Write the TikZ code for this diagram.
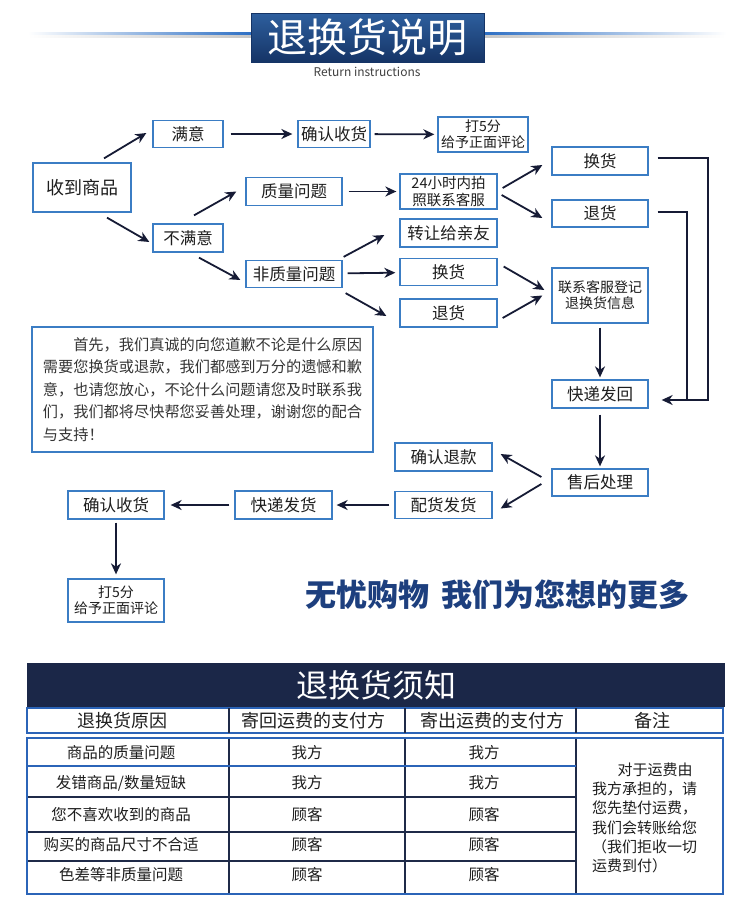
\documentclass[tikz,border=0pt]{standalone}
\usepackage{fontspec}
\setmainfont{Noto Sans CJK SC}
\usetikzlibrary{arrows.meta, positioning, calc}

\definecolor{boxblue}{HTML}{3B7DC4}
\definecolor{arrownavy}{HTML}{161B35}
\definecolor{textdark}{HTML}{1E1E1E}
\definecolor{hdrtop}{HTML}{2E5F9E}
\definecolor{hdrbot}{HTML}{153466}
\definecolor{lineblue}{HTML}{2D6FC4}
\definecolor{tblnavy}{HTML}{1B2748}
\definecolor{tblblue}{HTML}{2B64B8}
\definecolor{tbldark}{HTML}{1F2A48}
\definecolor{slogan}{HTML}{1D3F7E}

\begin{document}
\begin{tikzpicture}[x=1pt, y=-1pt,
    box/.style={draw=boxblue, line width=1.3pt, fill=white, minimum width=96pt, minimum height=28pt, inner sep=0pt, text=textdark, align=center, font=\fontsize{16.5pt}{19pt}\selectfont},
    smallbox/.style={box, font=\fontsize{14pt}{16pt}\selectfont},
    conn/.style={draw=arrownavy, line width=1.8pt, -{Stealth[length=11pt, width=10pt, inset=3.5pt]}},
    link/.style={draw=arrownavy, line width=1.8pt},
    cell/.style={text=textdark, font=\fontsize{15.5pt}{18pt}\selectfont},
    headcell/.style={text=textdark, font=\fontsize{18pt}{20pt}\selectfont}
]
    \useasboundingbox[fill=white] (0,0) rectangle (750,921);

    % heading
    \shade[left color=white, right color=lineblue] (28,32) rectangle (251,35);
    \shade[left color=white, right color=gray!45] (28,35) rectangle (251,37.5);
    \shade[left color=lineblue, right color=white] (484,32) rectangle (726,35);
    \shade[left color=gray!45, right color=white] (484,35) rectangle (726,37.5);
    \node[top color=hdrtop, bottom color=hdrbot, draw=hdrbot, minimum width=233pt, minimum height=49pt, inner sep=0pt, text=white, font=\fontsize{40pt}{42pt}\selectfont] (title) at (367.5,37.5) {退换货说明};
    \node[text=textdark!85, font=\fontsize{12pt}{13pt}\selectfont] (subtitle) at (367,72) {Return instructions};

    % flow
    \node[box, minimum width=98pt, minimum height=49pt, font=\fontsize{18pt}{20pt}\selectfont] (recv) at (82,187.5) {收到商品};
    \node[box, minimum width=70pt, minimum height=27pt] (sat) at (188,134) {满意};
    \node[box, minimum width=72pt, minimum height=27pt] (okTop) at (334,134) {确认收货};
    \node[smallbox, minimum width=90pt, minimum height=35pt] (rateTop) at (483,134.5) {打5分\\给予正面评论};
    \node[box, minimum width=70pt] (unsat) at (188,238) {不满意};
    \node[box] (qual) at (294,191.5) {质量问题};
    \node[smallbox, minimum width=97pt, minimum height=35pt, font=\fontsize{14.5pt}{16.5pt}\selectfont] (svc) at (448.5,191.5) {24小时内拍\\照联系客服};
    \node[box, minimum height=27pt] (nonq) at (294,274) {非质量问题};
    \node[box] (exA) at (600,161) {换货};
    \node[box, minimum height=27pt] (rfA) at (600,213.5) {退货};
    \node[box, minimum width=97pt] (gift) at (448.5,233) {转让给亲友};
    \node[box, minimum width=97pt, minimum height=27pt] (exB) at (448.5,272) {换货};
    \node[box, minimum width=97pt] (rfB) at (448.5,313) {退货};
    \node[smallbox, minimum height=55pt] (reg) at (600,295.5) {联系客服登记\\退换货信息};
    \node[box, minimum width=341pt, minimum height=125pt, align=left, font=\fontsize{15.2pt}{22.6pt}\selectfont, text=textdark!90] (note) at (202.5,389.5)
        {\hspace*{2em}首先，我们真诚的向您道歉不论是什么原因\\
         需要您换货或退款，我们都感到万分的遗憾和歉\\
         意，也请您放心，不论什么问题请您及时联系我\\
         们，我们都将尽快帮您妥善处理，谢谢您的配合\\
         与支持！};
    \node[box] (back) at (600,394) {快递发回};
    \node[box, minimum width=97pt] (refund) at (443.5,457) {确认退款};
    \node[box, minimum height=27pt] (after) at (600,482.5) {售后处理};
    \node[box, minimum width=97pt, minimum height=27pt] (ship) at (443.5,505) {配货发货};
    \node[box, minimum width=97pt] (exp) at (283.5,505) {快递发货};
    \node[box] (okBot) at (116,505) {确认收货};
    \node[smallbox, minimum height=43pt] (rateBot) at (116,600.5) {打5分\\给予正面评论};

    \draw[conn] ([xshift=22pt,yshift=4pt]recv.north) -- ([xshift=-6pt,yshift=1pt]sat.west);
    \draw[conn] ([xshift=25pt,yshift=-5pt]recv.south) -- ([xshift=-3pt,yshift=-4pt]unsat.west);
    \draw[conn, shorten <=7pt, shorten >=5pt] (sat) -- (okTop);
    \draw[conn, shorten <=4pt, shorten >=3pt] (okTop) -- (rateTop);
    \draw[conn] ([xshift=6pt,yshift=8pt]unsat.north) -- ([xshift=-9pt]qual.west);
    \draw[conn] ([xshift=11pt,yshift=-5pt]unsat.south) -- ([xshift=-5pt,yshift=-6pt]nonq.west);
    \draw[conn, shorten <=6pt, shorten >=3pt] (qual) -- (svc);
    \draw[conn] ([xshift=1pt,yshift=3pt]nonq.north east) -- ([xshift=-15pt,yshift=-2pt]gift.west);
    \draw[conn, shorten <=5pt, shorten >=4pt] (nonq) -- (exB);
    \draw[conn] ([xshift=3pt,yshift=-5pt]nonq.south east) -- ([xshift=-13pt,yshift=-3pt]rfB.west);
    \draw[conn] ([xshift=5pt,yshift=3.5pt]svc.east) -- ([xshift=-9pt,yshift=-4pt]exA.west);
    \draw[conn] ([xshift=4pt,yshift=-3.5pt]svc.east) -- ([xshift=-9pt,yshift=-4.5pt]rfA.west);
    \draw[conn] ([xshift=6pt,yshift=5.5pt]exB.east) -- ([xshift=-7pt,yshift=5.5pt]reg.west);
    \draw[conn] ([xshift=5pt,yshift=-5pt]rfB.east) -- ([xshift=-9pt]reg.west);
    \draw[conn] ([xshift=9pt,yshift=3pt]exA.east) -| ([xshift=59pt,yshift=-6pt]back.east) -- ([xshift=13pt,yshift=-6pt]back.east);
    \draw[link] ([xshift=9pt,yshift=1.5pt]rfA.east) -| ([xshift=38pt,yshift=-6pt]back.east);
    \draw[conn, shorten <=4pt, shorten >=2pt] (reg) -- (back);
    \draw[conn, shorten <=6pt, shorten >=2pt] (back) -- (after);
    \draw[conn] ([xshift=-10pt,yshift=5.5pt]after.west) -- ([xshift=8pt,yshift=3pt]refund.east);
    \draw[conn] ([xshift=-10pt,yshift=-1.5pt]after.west) -- ([xshift=8pt,yshift=-3.5pt]ship.east);
    \draw[conn, shorten <=5pt, shorten >=4pt] (ship) -- (exp);
    \draw[conn, shorten <=5pt, shorten >=6pt] (exp) -- (okBot);
    \draw[conn, shorten <=3pt, shorten >=4pt] (okBot) -- (rateBot);

    % slogan
    \node[text=slogan, font=\fontsize{31pt}{33pt}\selectfont\bfseries] (sloganText) at (497.5,595) {无忧购物\hspace{0.4em}我们为您想的更多};

    % table
    \node[fill=tblnavy, minimum width=698pt, minimum height=44pt, inner sep=0pt, text=white, font=\fontsize{32pt}{34pt}\selectfont] (tblTitle) at (376,685) {退换货须知};
    \draw[tblblue, line width=1.2pt] (27,708) rectangle (723,733);
    \draw[tbldark, line width=1.2pt] (229,708) -- (229,733) (405,708) -- (405,733) (576,708) -- (576,733);
    \node[headcell] (hReason) at (122,720.5) {退换货原因};
    \node[headcell] (hBack) at (313,720.5) {寄回运费的支付方};
    \node[headcell] (hOut) at (492,720.5) {寄出运费的支付方};
    \node[headcell] (hNote) at (652,720.5) {备注};

    \draw[tbldark, line width=1.5pt] (229,738) -- (229,894) (405,738) -- (405,894) (576,738) -- (576,894);
    \draw[tbldark, line width=1.5pt] (27,797) -- (576,797) (27,832) -- (576,832) (27,861) -- (576,861);
    \draw[tblblue, line width=1.2pt] (27,766) -- (576,766);
    \draw[tblblue, line width=2pt] (27,738) rectangle (723,894);

    \node[cell] (r1a) at (121,753) {商品的质量问题};
    \node[cell] (r1b) at (307,753) {我方};
    \node[cell] (r1c) at (484,753) {我方};
    \node[cell] (r2a) at (121,783) {发错商品/数量短缺};
    \node[cell] (r2b) at (307,783) {我方};
    \node[cell] (r2c) at (484,783) {我方};
    \node[cell] (r3a) at (121,815) {您不喜欢收到的商品};
    \node[cell] (r3b) at (307,815) {顾客};
    \node[cell] (r3c) at (484,815) {顾客};
    \node[cell] (r4a) at (121,845) {购买的商品尺寸不合适};
    \node[cell] (r4b) at (307,845) {顾客};
    \node[cell] (r4c) at (484,845) {顾客};
    \node[cell] (r5a) at (121,875) {色差等非质量问题};
    \node[cell] (r5b) at (307,875) {顾客};
    \node[cell] (r5c) at (484,875) {顾客};
    \node[cell, anchor=west, align=left, inner sep=0pt, font=\fontsize{15pt}{19.3pt}\selectfont] (remark) at (592,818)
        {\hspace*{1.7em}对于运费由\\我方承担的，请\\您先垫付运费，\\我们会转账给您\\（我们拒收一切\\运费到付）};
\end{tikzpicture}
\end{document}
